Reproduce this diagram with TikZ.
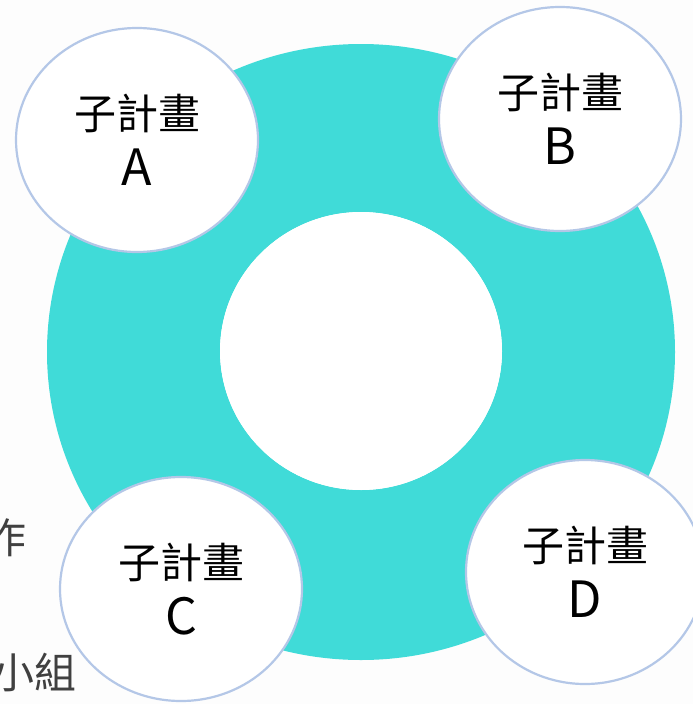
\documentclass[tikz,border=0pt]{standalone}
\usepackage{fontspec}
\newfontfamily\cjk{Noto Sans CJK TC}
\usetikzlibrary{shapes.geometric, positioning}
\definecolor{ringteal}{RGB}{64,219,216}
\definecolor{rimblue}{RGB}{180,199,231}
\definecolor{bgwhite}{RGB}{253,253,253}
\definecolor{sidegray}{RGB}{64,64,64}

\tikzset{
  subplan/.style={ellipse, draw=rimblue, line width=2.2pt, fill=white, minimum width=242pt, minimum height=224pt, inner sep=0pt, align=center, font=\cjk\fontsize{42}{56}\selectfont},
  sidetext/.style={anchor=east, text=sidegray, font=\cjk\fontsize{42}{50}\selectfont, inner sep=0pt}
}

\begin{document}
\begin{tikzpicture}[x=1pt, y=-1pt]
\useasboundingbox (0,0) rectangle (693,704);
\clip (0,0) rectangle (693,704);
\fill[bgwhite] (0,0) rectangle (693,704);

% Ring
\fill[ringteal, even odd rule] (361,352) ellipse [x radius=314, y radius=308]
  (361,351) ellipse [x radius=141, y radius=139];
\fill[white] (361,351) ellipse [x radius=141, y radius=139];

% Side texts (cut off at the left edge)
\node[sidetext] (side1) at (27,538) {作};
\node[sidetext] (side2) at (77,672) {小組};

% Sub-plans
\node[subplan] (subA) at (137,140) {子計畫\\{\fontsize{50}{56}\selectfont A}};
\node[subplan] (subB) at (560,119) {子計畫\\{\fontsize{50}{56}\selectfont B}};
\node[subplan] (subC) at (181,589) {子計畫\\{\fontsize{50}{56}\selectfont C}};
\node[subplan, minimum width=238pt] (subD) at (585,572) {子計畫\\{\fontsize{50}{56}\selectfont D}};
\end{tikzpicture}
\end{document}
